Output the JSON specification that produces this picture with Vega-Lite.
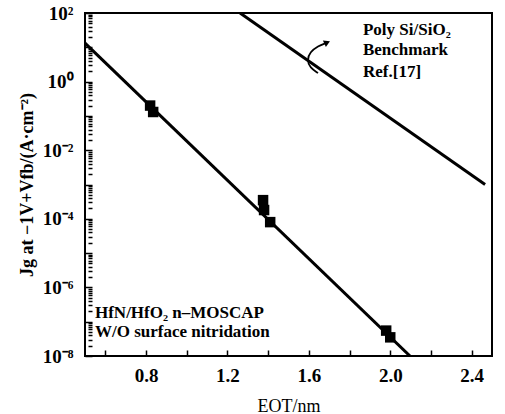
{
  "$schema": "https://vega.github.io/schema/vega-lite/v6.json",
  "width": 407,
  "height": 343,
  "autosize": {"type": "none"},
  "padding": {"left": 85, "top": 13, "right": 13, "bottom": 58},
  "background": "white",
  "config": {
    "view": {"stroke": "black", "strokeWidth": 2},
    "font": "Liberation Serif",
    "axis": {"grid": false, "domain": false, "ticks": true, "tickColor": "black", "tickWidth": 1.5,
      "labelFont": "Liberation Serif", "labelFontSize": 19, "labelColor": "black", "labelFontWeight": "bold",
      "titleFont": "Liberation Serif", "titleFontSize": 18, "titleColor": "black", "titleFontWeight": "bold"}
  },
  "datasets": {
    "fit": [{"x": 0.5, "y": 13.3}, {"x": 2.097, "y": 1e-8}],
    "bench": [{"x": 1.262, "y": 100}, {"x": 2.466, "y": 0.001}],
    "pts": [
      {"x": 0.82, "y": 0.2}, {"x": 0.835, "y": 0.13},
      {"x": 1.375, "y": 0.00035}, {"x": 1.38, "y": 0.00018}, {"x": 1.41, "y": 0.00008},
      {"x": 1.98, "y": 5.5e-8}, {"x": 2.0, "y": 3.5e-8}
    ],
    "arrow": [
      {"o": 1, "x": 1.645, "y": 1.78}, {"o": 2, "x": 1.606, "y": 2.5}, {"o": 3, "x": 1.591, "y": 4.3},
      {"o": 4, "x": 1.606, "y": 7.3}, {"o": 5, "x": 1.645, "y": 11}, {"o": 6, "x": 1.684, "y": 13.3}
    ],
    "head": [{"x": 1.69, "y": 13.8}],
    "labels": [
      {"x": 1.866, "y": 31.6, "t": "Poly Si/SiO₂"},
      {"x": 1.866, "y": 8.3, "t": "Benchmark"},
      {"x": 1.866, "y": 1.9, "t": "Ref.[17]"},
      {"x": 0.549, "y": 1.78e-7, "t": "HfN/HfO₂ n–MOSCAP"},
      {"x": 0.549, "y": 5e-8, "t": "W/O surface nitridation"}
    ]
  },
  "layer": [
    {
      "data": {"name": "fit"},
      "mark": {"type": "line", "color": "black", "strokeWidth": 3, "clip": true},
      "encoding": {
        "x": {"field": "x", "type": "quantitative", "scale": {"domain": [0.5, 2.5], "nice": false, "zero": false},
          "axis": {"title": "EOT/nm", "titlePadding": 12, "titleFontWeight": "normal", "offset": -6,
            "values": [0.6, 0.8, 1.0, 1.2, 1.4, 1.6, 1.8, 2.0, 2.2, 2.4],
            "labelExpr": "abs(datum.value*10 % 4) < 0.01 || abs(datum.value*10 % 4 - 4) < 0.01 ? format(datum.value, '.1f') : ''",
            "tickSize": 6,
            "labelPadding": 10}},
        "y": {"field": "y", "type": "quantitative", "scale": {"type": "log", "domain": [1e-8, 100], "nice": false},
          "axis": {"title": "Jg at −1V+Vfb/(A·cm⁻²)", "titlePadding": 6, "offset": -7,
            "values": [1e-8,2e-8,3e-8,4e-8,5e-8,6e-8,7e-8,8e-8,9e-8,1e-7,2e-7,3e-7,4e-7,5e-7,6e-7,7e-7,8e-7,9e-7,1e-6,2e-6,3e-6,4e-6,5e-6,6e-6,7e-6,8e-6,9e-6,1e-5,2e-5,3e-5,4e-5,5e-5,6e-5,7e-5,8e-5,9e-5,1e-4,2e-4,3e-4,4e-4,5e-4,6e-4,7e-4,8e-4,9e-4,1e-3,2e-3,3e-3,4e-3,5e-3,6e-3,7e-3,8e-3,9e-3,1e-2,2e-2,3e-2,4e-2,5e-2,6e-2,7e-2,8e-2,9e-2,0.1,0.2,0.3,0.4,0.5,0.6,0.7,0.8,0.9,1,2,3,4,5,6,7,8,9,10,20,30,40,50,60,70,80,90,100],
            "labelExpr": "round(log(datum.value)/LN10) == 2 && abs(log(datum.value)/LN10 - 2) < 0.001 ? '10²' : round(log(datum.value)/LN10) == 0 && abs(log(datum.value)/LN10) < 0.001 ? '10⁰' : round(log(datum.value)/LN10) == -2 && abs(log(datum.value)/LN10 + 2) < 0.001 ? '10⁻²' : round(log(datum.value)/LN10) == -4 && abs(log(datum.value)/LN10 + 4) < 0.001 ? '10⁻⁴' : round(log(datum.value)/LN10) == -6 && abs(log(datum.value)/LN10 + 6) < 0.001 ? '10⁻⁶' : round(log(datum.value)/LN10) == -8 && abs(log(datum.value)/LN10 + 8) < 0.001 ? '10⁻⁸' : ''",
            "tickSize": {"condition": {"test": "abs(log(datum.value)/LN10 - round(log(datum.value)/LN10)) < 0.001", "value": 7}, "value": 4},
            "labelPadding": 12}}
      }
    },
    {
      "data": {"name": "bench"},
      "mark": {"type": "line", "color": "black", "strokeWidth": 3, "clip": true},
      "encoding": {"x": {"field": "x", "type": "quantitative"}, "y": {"field": "y", "type": "quantitative"}}
    },
    {
      "data": {"name": "pts"},
      "mark": {"type": "point", "shape": "square", "filled": true, "color": "black", "size": 110, "opacity": 1},
      "encoding": {"x": {"field": "x", "type": "quantitative"}, "y": {"field": "y", "type": "quantitative"}}
    },
    {
      "data": {"name": "arrow"},
      "mark": {"type": "line", "color": "black", "strokeWidth": 1.8, "interpolate": "basis"},
      "encoding": {"x": {"field": "x", "type": "quantitative"}, "y": {"field": "y", "type": "quantitative"}, "order": {"field": "o"}}
    },
    {
      "data": {"name": "head"},
      "mark": {"type": "point", "shape": "triangle-right", "filled": true, "color": "black", "size": 50, "angle": -25, "opacity": 1},
      "encoding": {"x": {"field": "x", "type": "quantitative"}, "y": {"field": "y", "type": "quantitative"}}
    },
    {
      "data": {"name": "labels"},
      "mark": {"type": "text", "align": "left", "baseline": "middle", "font": "Liberation Serif", "fontSize": 17, "fontWeight": "bold", "color": "black"},
      "encoding": {"x": {"field": "x", "type": "quantitative"}, "y": {"field": "y", "type": "quantitative"}, "text": {"field": "t"}}
    }
  ]
}
